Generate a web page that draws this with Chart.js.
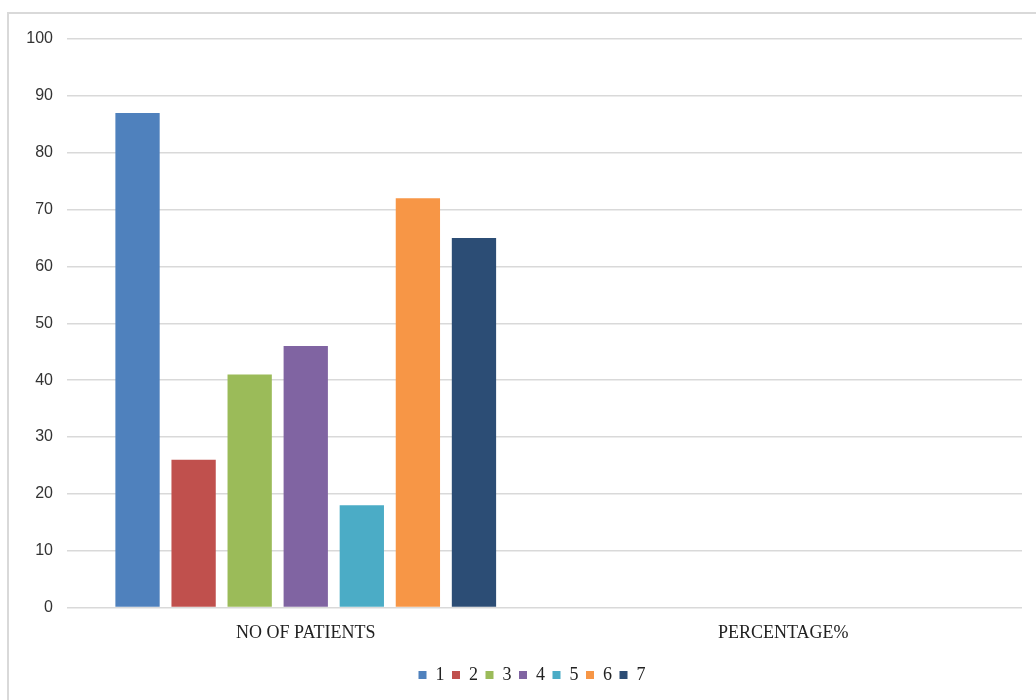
<!DOCTYPE html>
<html>
<head>
<meta charset="utf-8">
<script src="https://cdn.jsdelivr.net/npm/chart.js@4.4.1/dist/chart.umd.min.js"></script>
<style>
  html, body { margin: 0; padding: 0; background: #ffffff; overflow: hidden; }
  #frame { position: absolute; left: 7px; top: 12px; width: 1100px; height: 800px; border: 2px solid #d9d9d9; box-sizing: border-box; }
  #c { position: absolute; left: 0; top: 0; }
</style>
</head>
<body>
<div id="frame"></div>
<canvas id="c" width="1036" height="700"></canvas>
<script>
const categories = ["NO OF PATIENTS", "PERCENTAGE%"];
const seriesNames = ["1", "2", "3", "4", "5", "6", "7"];
const patientCounts = [87, 26, 41, 46, 18, 72, 65];
const percentageValues = [null, null, null, null, null, null, null];
const yTicks = [0, 10, 20, 30, 40, 50, 60, 70, 80, 90, 100];
const seriesColors = ["#4F81BD", "#C0504D", "#9BBB59", "#8064A2", "#4BACC6", "#F79646", "#2C4D75"];

const datasets = seriesNames.map((name, i) => ({
  label: name,
  data: [patientCounts[i], percentageValues[i]],
  backgroundColor: seriesColors[i],
  borderWidth: 0,
  categoryPercentage: 0.822,
  barPercentage: 0.79
}));

const legendShift = {
  id: "legendShift",
  afterLayout(chart) {
    if (chart.legend) { chart.legend.left += 42; }
  }
};

new Chart(document.getElementById("c"), {
  type: "bar",
  data: { labels: categories, datasets: datasets },
  plugins: [legendShift],
  options: {
    responsive: false,
    animation: false,
    layout: { padding: { left: 0, right: 14, top: 39, bottom: 6 } },
    plugins: {
      tooltip: { enabled: false },
      legend: {
        position: "bottom",
        labels: {
          boxWidth: 8,
          boxHeight: 8,
          padding: 7.5,
          color: "#222222",
          font: { family: "'Liberation Serif', 'Times New Roman', serif", size: 18 }
        }
      }
    },
    scales: {
      x: {
        afterFit: (scale) => { scale.height = 51; },
        grid: { display: false },
        border: { display: false },
        ticks: {
          padding: 7,
          color: "#222222",
          font: { family: "'Liberation Serif', 'Times New Roman', serif", size: 18 }
        }
      },
      y: {
        min: 0,
        max: 100,
        afterBuildTicks: (scale) => { scale.ticks = yTicks.map(v => ({ value: v })); },
        afterFit: (scale) => { scale.width = 67; },
        grid: { color: "#d9d9d9", lineWidth: 1.5, drawTicks: false },
        border: { display: false },
        ticks: {
          padding: 14,
          color: "#333333",
          font: { family: "'Liberation Sans', Arial, sans-serif", size: 16 }
        }
      }
    }
  }
});
</script>
</body>
</html>
